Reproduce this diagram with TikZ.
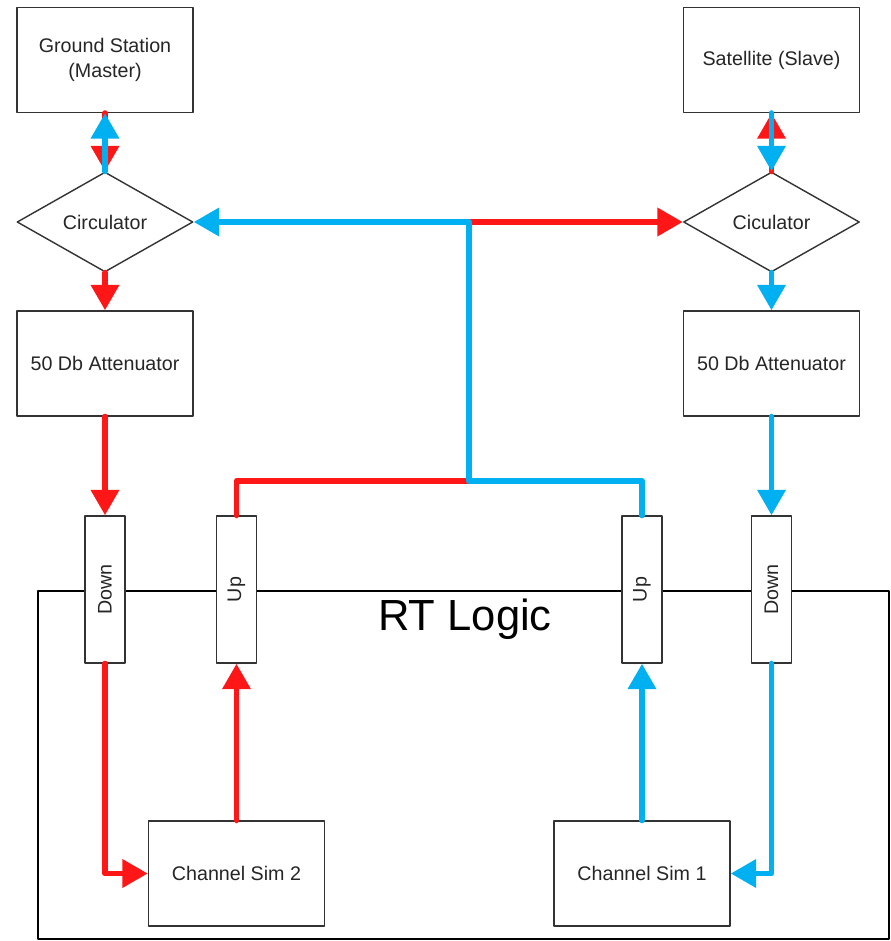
\documentclass[tikz,border=0pt]{standalone}
\usepackage{fontspec}
\setmainfont{Liberation Sans}
\usetikzlibrary{arrows.meta,shapes.geometric}
\definecolor{sigred}{RGB}{255,22,22}
\definecolor{sigblue}{RGB}{0,176,240}
\begin{document}
\begin{tikzpicture}[x=0.02cm,y=-0.02cm,line join=round,line cap=round,
	font=\fontsize{11.2}{14.4}\selectfont,
	box/.style={draw=black!80,line width=0.8pt,fill=white,text=black!85,align=center,minimum width=3.52cm,minimum height=2.1cm,inner sep=0pt},
	circ/.style={draw=black!80,line width=0.8pt,fill=white,text=black!85,diamond,minimum width=3.52cm,minimum height=2cm,inner sep=0pt},
	port/.style={draw=black!80,line width=0.8pt,fill=white,text=black!85,rotate=90,minimum width=2.94cm,minimum height=0.8cm,inner sep=0pt},
	redline/.style={draw=sigred,line width=3.4pt,-{Triangle[length=14.5pt,width=15.5pt]}},
	blueline/.style={draw=sigblue,line width=3.4pt,-{Triangle[length=14.5pt,width=15.5pt]}}]
	\useasboundingbox (0,0) rectangle (891,941);
	\draw[line width=1pt] (38,591) rectangle (889,939);
	\node[font=\fontsize{24.8}{28}\selectfont] (rt) at (465,619) {RT Logic};
	\node[box] (gs) at (105,60) {Ground Station\\(Master)};
	\node[box] (sat) at (771.5,60) {Satellite (Slave)};
	\node[circ] (circL) at (105,222) {Circulator};
	\node[circ] (circR) at (771.5,222) {Ciculator};
	\node[box] (attL) at (105,363.5) {50 Db Attenuator};
	\node[box] (attR) at (771.5,363.5) {50 Db Attenuator};
	\node[port] (downL) at (105,589.5) {Down};
	\node[port] (upL) at (236.5,589.5) {Up};
	\node[port] (upR) at (642,589.5) {Up};
	\node[port] (downR) at (771.5,589.5) {Down};
	\node[box] (cs2) at (236.5,873.5) {Channel Sim 2};
	\node[box] (cs1) at (642,873.5) {Channel Sim 1};
	\coordinate (jt) at (469,222);
	\coordinate (jb) at (469,481);
	\draw[redline] (gs.south) -- (circL.north);
	\draw[blueline] (circL.north) -- (gs.south);
	\draw[redline] (circR.north) -- (sat.south);
	\draw[blueline] (sat.south) -- (circR.north);
	\draw[redline] (circL.south) -- (attL.north);
	\draw[blueline] (circR.south) -- (attR.north);
	\draw[redline] (attL.south) -- (downL.east);
	\draw[blueline] (attR.south) -- (downR.east);
	\draw[redline] (downL.west) |- (cs2.west);
	\draw[redline] (cs2.north) -- (upL.west);
	\draw[blueline] (downR.west) |- (cs1.east);
	\draw[blueline] (cs1.north) -- (upR.west);
	\draw[redline] (upL.east) |- (jb) -- (jt) -- (circR.west);
	\draw[blueline] (upR.east) |- (jb) -- (jt) -- (circL.east);
\end{tikzpicture}
\end{document}
